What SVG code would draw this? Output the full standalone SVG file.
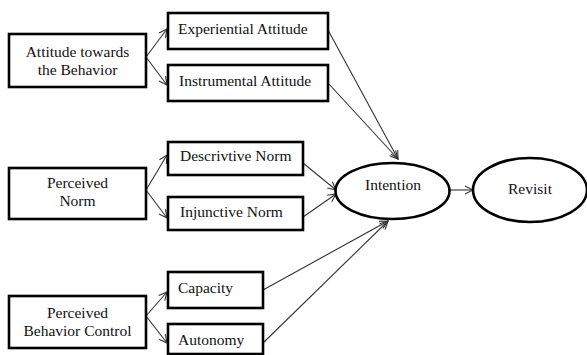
<svg xmlns="http://www.w3.org/2000/svg" width="587" height="355" viewBox="0 0 587 355" font-family="Liberation Serif, Times New Roman, serif" font-size="15.5">
<style>
.box{fill:#fff;stroke:#000;stroke-width:2.6}
.ell{fill:#fff;stroke:#000;stroke-width:2.6}
.c{text-anchor:middle}
.ln{stroke:#333;stroke-width:1.1;fill:none;marker-end:url(#ah)}
</style>
<defs>
<marker id="ah" markerUnits="userSpaceOnUse" markerWidth="10" markerHeight="10" refX="9" refY="5" orient="auto">
<path d="M1,1 L9,5 L1,9" fill="none" stroke="#333" stroke-width="1.1"/>
</marker>
</defs>
<rect width="587" height="355" fill="#fff"/>
<g id="connectors">
<line class="ln" x1="146" y1="57" x2="167" y2="29"/>
<line class="ln" x1="146" y1="57" x2="167" y2="85"/>
<line class="ln" x1="146" y1="190" x2="167" y2="155"/>
<line class="ln" x1="146" y1="190" x2="167" y2="218"/>
<line class="ln" x1="146" y1="316" x2="167" y2="292"/>
<line class="ln" x1="146" y1="316" x2="167" y2="343"/>
<line class="ln" x1="328" y1="30" x2="398" y2="159"/>
<line class="ln" x1="328" y1="83" x2="398" y2="159"/>
<line class="ln" x1="303" y1="163" x2="336" y2="190"/>
<line class="ln" x1="303" y1="217" x2="336" y2="194"/>
<line class="ln" x1="263" y1="290" x2="388" y2="221"/>
<line class="ln" x1="261" y1="345" x2="388" y2="221"/>
<line class="ln" x1="450" y1="190" x2="473" y2="190"/>
</g>
<g id="attitude">
<rect class="box" x="9" y="34" width="137" height="53"/>
<text class="c" x="77.5" y="57" fill="#111">Attitude towards</text>
<text class="c" x="77.5" y="75" fill="#111">the Behavior</text>
</g>
<g id="experiential">
<rect class="box" x="168" y="13" width="160" height="36"/>
<text x="178" y="34" fill="#111">Experiential Attitude</text>
</g>
<g id="instrumental">
<rect class="box" x="168" y="65" width="160" height="36"/>
<text x="179" y="86" fill="#111">Instrumental Attitude</text>
</g>
<g id="norm">
<rect class="box" x="9" y="168" width="137" height="51"/>
<text class="c" x="77.5" y="188" fill="#111">Perceived</text>
<text class="c" x="77.5" y="206" fill="#111">Norm</text>
</g>
<g id="descriptive">
<rect class="box" x="168" y="142" width="135" height="33"/>
<text x="180" y="161" fill="#111">Descrivtive Norm</text>
</g>
<g id="injunctive">
<rect class="box" x="168" y="197" width="135" height="33"/>
<text x="180" y="217" fill="#111">Injunctive Norm</text>
</g>
<g id="pbc">
<rect class="box" x="9" y="296" width="137" height="52"/>
<text class="c" x="77.5" y="318" fill="#111">Perceived</text>
<text class="c" x="77.5" y="336" fill="#111">Behavior Control</text>
</g>
<g id="capacity">
<rect class="box" x="168" y="272" width="95" height="36"/>
<text x="178" y="293" fill="#111">Capacity</text>
</g>
<g id="autonomy">
<rect class="box" x="168" y="324" width="95" height="30"/>
<text x="178" y="345" fill="#111">Autonomy</text>
</g>
<g id="intention">
<ellipse class="ell" cx="392.5" cy="191" rx="57" ry="28"/>
<text class="c" x="393" y="190" fill="#111">Intention</text>
</g>
<g id="revisit">
<ellipse class="ell" cx="530" cy="190" rx="57" ry="32"/>
<text class="c" x="530" y="194" fill="#111">Revisit</text>
</g>
</svg>
